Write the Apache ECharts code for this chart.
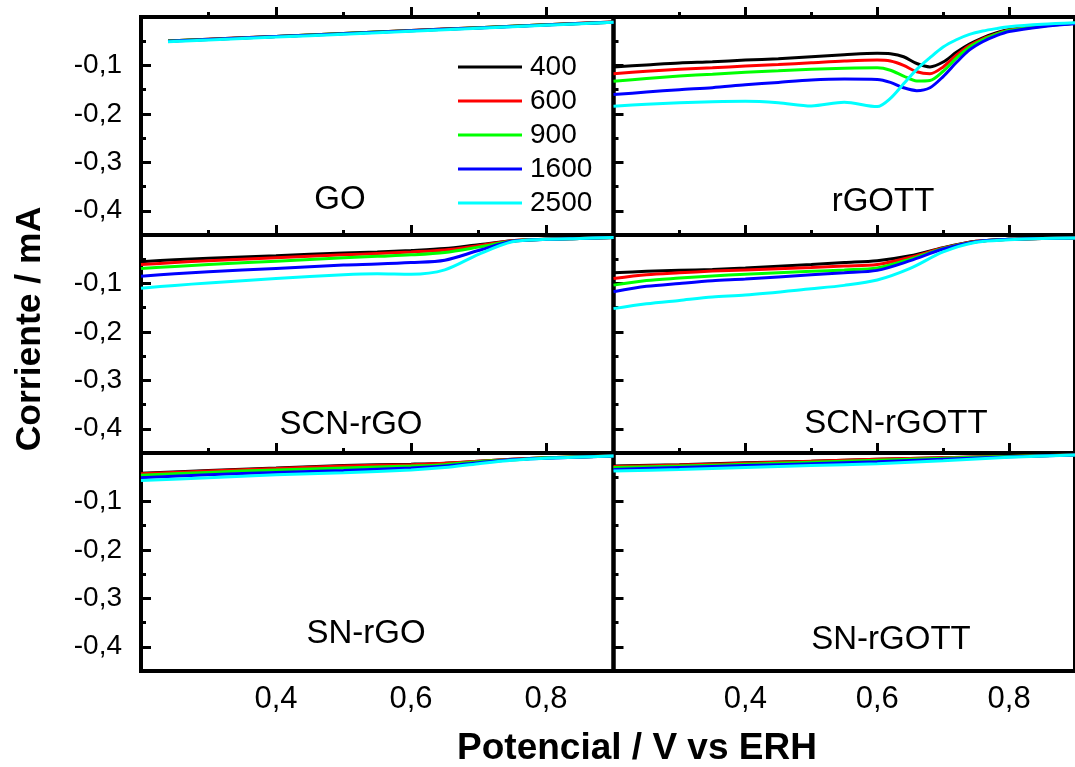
<!DOCTYPE html>
<html><head><meta charset="utf-8">
<script src="https://cdn.jsdelivr.net/npm/echarts@6/dist/echarts.min.js"></script>
<style>html,body{margin:0;padding:0;background:#fff}#c{width:1075px;height:767px}</style>
</head><body><div id="c"></div>
<script>
// ---------- data ----------
const SPEEDS = ['400', '600', '900', '1600', '2500'];
const PANELS = ['GO', 'rGOTT', 'SCN-rGO', 'SCN-rGOTT', 'SN-rGO', 'SN-rGOTT'];
const X_MAJOR = [0.4, 0.6, 0.8];
const X_MINOR = [0.3, 0.5, 0.7];
const Y_MAJOR = [-0.4, -0.3, -0.2, -0.1];
const Y_MINOR = [-0.35, -0.25, -0.15, -0.05];

const GO_x    = [0.24, 0.3, 0.4, 0.5, 0.6, 0.7, 0.8, 0.9];
const GO_400  = [-0.0495, -0.0460, -0.0400, -0.0340, -0.0280, -0.0220, -0.0160, -0.0105];
const GO_600  = [-0.0495, -0.0460, -0.0400, -0.0340, -0.0280, -0.0220, -0.0160, -0.0105];
const GO_900  = [-0.0497, -0.0462, -0.0402, -0.0342, -0.0282, -0.0222, -0.0162, -0.0106];
const GO_1600 = [-0.0500, -0.0465, -0.0405, -0.0345, -0.0285, -0.0225, -0.0165, -0.0108];
const GO_2500 = [-0.0510, -0.0475, -0.0415, -0.0355, -0.0295, -0.0233, -0.0170, -0.0110];

const rGOTT_x    = [0.2, 0.25, 0.3, 0.35, 0.4, 0.45, 0.5, 0.55, 0.6, 0.62, 0.64, 0.66, 0.68, 0.7, 0.72, 0.74, 0.76, 0.78, 0.8, 0.85, 0.9];
const rGOTT_400  = [-0.103, -0.099, -0.095, -0.0925, -0.089, -0.086, -0.082, -0.078, -0.075, -0.076, -0.082, -0.096, -0.103, -0.093, -0.073, -0.056, -0.043, -0.033, -0.026, -0.018, -0.013];
const rGOTT_600  = [-0.117, -0.112, -0.108, -0.105, -0.101, -0.098, -0.0945, -0.091, -0.089, -0.091, -0.100, -0.113, -0.117, -0.103, -0.079, -0.059, -0.045, -0.035, -0.027, -0.018, -0.013];
const rGOTT_900  = [-0.1325, -0.127, -0.122, -0.118, -0.114, -0.111, -0.108, -0.106, -0.105, -0.110, -0.122, -0.132, -0.131, -0.112, -0.085, -0.062, -0.047, -0.036, -0.028, -0.019, -0.013];
const rGOTT_1600 = [-0.160, -0.155, -0.150, -0.146, -0.140, -0.135, -0.130, -0.128, -0.129, -0.135, -0.146, -0.152, -0.146, -0.123, -0.094, -0.068, -0.051, -0.039, -0.030, -0.020, -0.014];
const rGOTT_2500 = [-0.184, -0.180, -0.177, -0.175, -0.174, -0.177, -0.1835, -0.176, -0.185, -0.168, -0.138, -0.108, -0.084, -0.062, -0.047, -0.036, -0.029, -0.024, -0.020, -0.015, -0.012];

const SCNrGO_x    = [0.2, 0.25, 0.3, 0.4, 0.5, 0.55, 0.6, 0.65, 0.7, 0.75, 0.8, 0.85, 0.9];
const SCNrGO_400  = [-0.055, -0.051, -0.048, -0.043, -0.037, -0.035, -0.032, -0.028, -0.020, -0.012, -0.009, -0.007, -0.005];
const SCNrGO_600  = [-0.061, -0.057, -0.053, -0.047, -0.041, -0.038, -0.035, -0.031, -0.022, -0.012, -0.009, -0.007, -0.005];
const SCNrGO_900  = [-0.069, -0.065, -0.061, -0.054, -0.047, -0.044, -0.041, -0.036, -0.025, -0.013, -0.009, -0.007, -0.005];
const SCNrGO_1600 = [-0.085, -0.080, -0.076, -0.069, -0.062, -0.060, -0.057, -0.052, -0.032, -0.013, -0.009, -0.007, -0.005];
const SCNrGO_2500 = [-0.110, -0.104, -0.099, -0.090, -0.082, -0.080, -0.081, -0.072, -0.040, -0.014, -0.009, -0.007, -0.005];

const SCNrGOTT_x    = [0.2, 0.25, 0.3, 0.35, 0.4, 0.5, 0.55, 0.6, 0.65, 0.7, 0.75, 0.8, 0.85, 0.9];
const SCNrGOTT_400  = [-0.078, -0.075, -0.073, -0.071, -0.068, -0.061, -0.057, -0.053, -0.043, -0.026, -0.013, -0.009, -0.007, -0.006];
const SCNrGOTT_600  = [-0.0897, -0.082, -0.078, -0.0745, -0.072, -0.067, -0.064, -0.061, -0.046, -0.027, -0.013, -0.009, -0.007, -0.006];
const SCNrGOTT_900  = [-0.1035, -0.094, -0.089, -0.0845, -0.081, -0.075, -0.072, -0.068, -0.050, -0.028, -0.014, -0.009, -0.007, -0.006];
const SCNrGOTT_1600 = [-0.117, -0.106, -0.100, -0.0945, -0.091, -0.082, -0.078, -0.073, -0.053, -0.029, -0.014, -0.009, -0.007, -0.006];
const SCNrGOTT_2500 = [-0.152, -0.142, -0.135, -0.128, -0.124, -0.111, -0.104, -0.093, -0.069, -0.035, -0.015, -0.010, -0.007, -0.006];

const SNrGO_x    = [0.2, 0.3, 0.4, 0.5, 0.6, 0.65, 0.7, 0.75, 0.8, 0.9];
const SNrGO_400  = [-0.042, -0.036, -0.031, -0.026, -0.023, -0.021, -0.017, -0.013, -0.010, -0.006];
const SNrGO_600  = [-0.043, -0.037, -0.032, -0.027, -0.024, -0.021, -0.017, -0.013, -0.010, -0.006];
const SNrGO_900  = [-0.046, -0.040, -0.035, -0.031, -0.027, -0.024, -0.018, -0.014, -0.010, -0.006];
const SNrGO_1600 = [-0.051, -0.045, -0.040, -0.036, -0.031, -0.027, -0.020, -0.014, -0.011, -0.006];
const SNrGO_2500 = [-0.057, -0.051, -0.045, -0.041, -0.035, -0.030, -0.022, -0.015, -0.011, -0.006];

const SNrGOTT_x    = [0.2, 0.3, 0.4, 0.5, 0.6, 0.7, 0.8, 0.9];
const SNrGOTT_400  = [-0.027, -0.024, -0.020, -0.017, -0.013, -0.010, -0.007, -0.004];
const SNrGOTT_600  = [-0.028, -0.025, -0.021, -0.017, -0.013, -0.010, -0.007, -0.004];
const SNrGOTT_900  = [-0.030, -0.027, -0.023, -0.019, -0.015, -0.011, -0.007, -0.004];
const SNrGOTT_1600 = [-0.034, -0.030, -0.026, -0.022, -0.018, -0.013, -0.008, -0.004];
const SNrGOTT_2500 = [-0.037, -0.034, -0.030, -0.026, -0.022, -0.016, -0.009, -0.004];

const PANEL_DATA = [
  [GO_x, [GO_400, GO_600, GO_900, GO_1600, GO_2500]],
  [rGOTT_x, [rGOTT_400, rGOTT_600, rGOTT_900, rGOTT_1600, rGOTT_2500]],
  [SCNrGO_x, [SCNrGO_400, SCNrGO_600, SCNrGO_900, SCNrGO_1600, SCNrGO_2500]],
  [SCNrGOTT_x, [SCNrGOTT_400, SCNrGOTT_600, SCNrGOTT_900, SCNrGOTT_1600, SCNrGOTT_2500]],
  [SNrGO_x, [SNrGO_400, SNrGO_600, SNrGO_900, SNrGO_1600, SNrGO_2500]],
  [SNrGOTT_x, [SNrGOTT_400, SNrGOTT_600, SNrGOTT_900, SNrGOTT_1600, SNrGOTT_2500]]
];

// ---------- style / layout ----------
const COLORS = ['#000000', '#ff0000', '#00ff00', '#0000ff', '#00ffff'];
const FONT = '"Liberation Sans", Arial, Helvetica, sans-serif';
const COL_LEFT = [141, 613.5];
const ROW_TOP = [17, 235, 453];
const PW = 472.5, PH = 218;
const LABEL_POS = [[340, 200], [883, 202], [351, 425], [896, 424], [366, 634], [891, 640]];

const fmt = v => v.toFixed(1).replace('.', ',');

const grid = [], xAxis = [], yAxis = [], series = [], graphic = [];
PANELS.forEach((name, i) => {
  const col = i % 2, row = Math.floor(i / 2);
  grid.push({left: COL_LEFT[col], top: ROW_TOP[row], width: PW, height: PH,
    show: true, borderColor: '#000', borderWidth: 4, backgroundColor: 'transparent', containLabel: false});
  const bottomRow = row === 2, leftCol = col === 0;
  const tickStyle = {color: '#000', width: 3};
  xAxis.push({gridIndex: i, type: 'value', min: 0.2, max: 0.9, position: 'bottom', offset: 0,
    axisLine: {show: false}, splitLine: {show: false},
    axisTick: {show: true, inside: true, length: 10, lineStyle: tickStyle, customValues: X_MAJOR},
    axisLabel: {show: bottomRow, customValues: X_MAJOR, formatter: fmt, fontSize: 31, color: '#000', fontFamily: FONT, margin: 13}});
  xAxis.push({gridIndex: i, type: 'value', min: 0.2, max: 0.9, position: 'bottom', offset: 0,
    axisLine: {show: false}, splitLine: {show: false},
    axisTick: {show: true, inside: true, length: 5, lineStyle: tickStyle, customValues: X_MINOR},
    axisLabel: {show: false}});
  yAxis.push({gridIndex: i, type: 'value', min: -0.45, max: 0, position: 'left', offset: 0,
    axisLine: {show: false}, splitLine: {show: false},
    axisTick: {show: true, inside: true, length: 10, lineStyle: tickStyle, customValues: Y_MAJOR},
    axisLabel: {show: leftCol, customValues: Y_MAJOR, formatter: fmt, fontSize: 28, color: '#000', fontFamily: FONT, margin: 19}});
  yAxis.push({gridIndex: i, type: 'value', min: -0.45, max: 0, position: 'left', offset: 0,
    axisLine: {show: false}, splitLine: {show: false},
    axisTick: {show: true, inside: true, length: 5, lineStyle: tickStyle, customValues: Y_MINOR},
    axisLabel: {show: false}});
  const [xs, ysList] = PANEL_DATA[i];
  SPEEDS.forEach((s, k) => {
    series.push({name: s, type: 'line', xAxisIndex: 2 * i, yAxisIndex: 2 * i,
      data: xs.map((x, j) => [x, ysList[k][j]]),
      smooth: 0.3, showSymbol: false, symbol: 'none', silent: true,
      lineStyle: {width: 3, color: COLORS[k]}, itemStyle: {color: COLORS[k]}, z: 3 + k});
  });
  graphic.push({type: 'text', x: LABEL_POS[i][0], y: LABEL_POS[i][1], silent: true,
    style: {text: name, fill: '#000', font: '33px ' + FONT, textAlign: 'center', textVerticalAlign: 'middle'}});
});

graphic.push({type: 'text', x: 637, y: 749, silent: true,
  style: {text: 'Potencial / V vs ERH', fill: '#000', font: 'bold 37px ' + FONT, textAlign: 'center', textVerticalAlign: 'middle'}});
graphic.push({type: 'text', x: 30, y: 329, rotation: Math.PI / 2, silent: true,
  style: {text: 'Corriente / mA', fill: '#000', font: 'bold 35.5px ' + FONT, textAlign: 'center', textVerticalAlign: 'middle'}});

const option = {
  animation: false,
  backgroundColor: '#fff',
  grid, xAxis, yAxis, series, graphic,
  legend: {data: SPEEDS, orient: 'vertical', left: 458, top: 53, padding: 0,
    itemWidth: 64, itemHeight: 3, icon: 'rect', itemGap: 6, selectedMode: false,
    textStyle: {fontSize: 28, lineHeight: 28, color: '#000', fontFamily: FONT, padding: [0, 0, 0, 3]}}
};
const chart = echarts.init(document.getElementById('c'), null, {renderer: 'canvas'});
chart.setOption(option);
</script>
</body></html>
